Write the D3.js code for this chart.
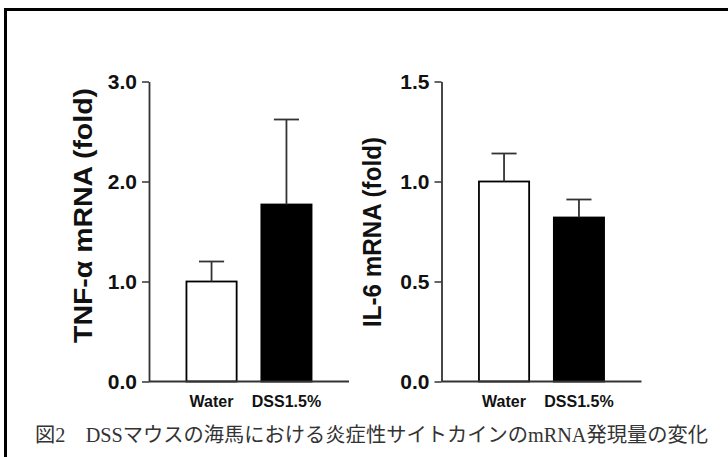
<!DOCTYPE html>
<html><head><meta charset="utf-8">
<script src="https://cdn.jsdelivr.net/npm/d3@7"></script>
<style>html,body{margin:0;padding:0;background:#fff;}svg{display:block;}</style>
</head><body>
<svg id="chart" width="728" height="457"></svg>
<script>
const categories = ["Water", "DSS1.5%"];
const tnfMeans = [1.0, 1.77];
const tnfErrors = [0.20, 0.85];
const il6Means = [1.0, 0.82];
const il6Errors = [0.14, 0.09];
const tnfTicks = [0, 1, 2, 3];
const il6Ticks = [0, 0.5, 1.0, 1.5];
const barFills = ["#ffffff", "#000000"];
const caption = "図2　DSSマウスの海馬における炎症性サイトカインのmRNA発現量の変化";

const svg = d3.select("#chart");
svg.append("rect").attr("x", 0).attr("y", 0).attr("width", 728).attr("height", 457).attr("fill", "#fff");
svg.append("rect").attr("x", 5.5).attr("y", 9.5).attr("width", 900).attr("height", 600)
  .attr("fill", "none").attr("stroke", "#000").attr("stroke-width", 3);

function panel(opts) {
  const g = svg.append("g");
  const x = d3.scaleBand().domain(categories).range([opts.x0, opts.x0 + 200]).paddingInner(0.33).paddingOuter(0.5);
  const y = d3.scaleLinear().domain([0, opts.max]).range([381.5, 81.5]);

  g.selectAll("rect.bar").data(categories).join("rect")
    .attr("x", d => x(d)).attr("width", x.bandwidth())
    .attr("y", (d, i) => y(opts.means[i]))
    .attr("height", (d, i) => y(0) - y(opts.means[i]))
    .attr("fill", (d, i) => barFills[i]).attr("stroke", "#000").attr("stroke-width", 1.8);

  const cap = x.bandwidth() / 2;
  categories.forEach((c, i) => {
    const cx = x(c) + x.bandwidth() / 2;
    g.append("line").attr("x1", cx).attr("x2", cx)
      .attr("y1", y(opts.means[i])).attr("y2", y(opts.means[i] + opts.errs[i]))
      .attr("stroke", "#333").attr("stroke-width", 1.8);
    g.append("line").attr("x1", cx - cap / 2).attr("x2", cx + cap / 2)
      .attr("y1", y(opts.means[i] + opts.errs[i])).attr("y2", y(opts.means[i] + opts.errs[i]))
      .attr("stroke", "#333").attr("stroke-width", 1.8);
  });

  const ya = g.append("g").attr("transform", `translate(${opts.x0},0)`)
    .call(d3.axisLeft(y).tickValues(opts.ticks).tickFormat(d3.format(".1f")).tickSize(7).tickPadding(5).tickSizeOuter(0));
  ya.select(".domain").attr("stroke", "#333").attr("stroke-width", 1.8);
  ya.selectAll(".tick line").attr("stroke", "#333").attr("stroke-width", 1.5);
  ya.selectAll(".tick text").attr("font-family", "'Liberation Sans', Arial, sans-serif")
    .attr("font-weight", "bold").attr("font-size", 21).attr("fill", "#111");

  g.append("line").attr("x1", opts.x0).attr("x2", opts.x0 + 200).attr("y1", 381.5).attr("y2", 381.5)
    .attr("stroke", "#333").attr("stroke-width", 1.8);

  g.selectAll("text.cat").data(categories).join("text")
    .attr("x", d => x(d) + x.bandwidth() / 2).attr("y", 407)
    .attr("text-anchor", "middle").attr("font-family", "'Liberation Sans', Arial, sans-serif")
    .attr("font-weight", "bold").attr("font-size", 16).attr("fill", "#111").text(d => d);

  g.append("text").attr("transform", `translate(${opts.tx},${opts.ty}) rotate(-90)`)
    .attr("text-anchor", "middle").attr("font-family", "'Liberation Sans', Arial, sans-serif")
    .attr("font-weight", "bold").attr("font-size", 25).attr("fill", "#111")
    .attr("textLength", opts.tlen).attr("lengthAdjust", "spacingAndGlyphs")
    .text(opts.title);
}

panel({x0: 149, max: 3, means: tnfMeans, errs: tnfErrors, ticks: tnfTicks,
  title: "TNF-α mRNA (fold)", tx: 92, ty: 215.5, tlen: 255});
panel({x0: 441.5, max: 1.5, means: il6Means, errs: il6Errors, ticks: il6Ticks,
  title: "IL-6 mRNA (fold)", tx: 381, ty: 232, tlen: 190});

svg.append("text").attr("x", 35).attr("y", 442)
  .attr("font-family", "'Liberation Serif', 'Noto Sans CJK JP', serif")
  .attr("font-size", 20).attr("fill", "#333")
  .attr("textLength", 673).attr("lengthAdjust", "spacingAndGlyphs")
  .text(caption);
</script>
</body></html>
